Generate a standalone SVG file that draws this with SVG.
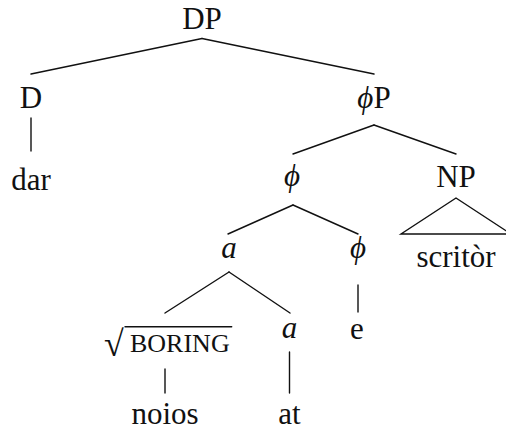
<svg xmlns="http://www.w3.org/2000/svg" width="506" height="432" viewBox="0 0 506 432">
  <style>
    .tx { font-family: 'Liberation Serif', serif !important; font-size: 31px; fill: #111; text-anchor: middle; }
    .it { font-style: italic; }
    .sc { font-size: 26px; text-anchor: start; }
    .edge { stroke: #111; stroke-width: 1.4; fill: none; stroke-linecap: round; }
  </style>
  <rect width="506" height="432" fill="#fff"/>

  <g id="edges">
    <line class="edge" x1="202" y1="38.5" x2="31" y2="74"/>
    <line class="edge" x1="202" y1="38.5" x2="374" y2="74"/>
    <line class="edge" x1="31" y1="118" x2="31" y2="151"/>
    <line class="edge" x1="374" y1="125" x2="293" y2="154"/>
    <line class="edge" x1="374" y1="125" x2="456" y2="154"/>
    <line class="edge" x1="293" y1="205" x2="228" y2="234"/>
    <line class="edge" x1="293" y1="205" x2="358" y2="234"/>
    <polygon class="edge" points="456,198 401,234 511,234" stroke-linejoin="miter"/>
    <line class="edge" x1="229" y1="272" x2="165" y2="313"/>
    <line class="edge" x1="229" y1="272" x2="290" y2="313"/>
    <line class="edge" x1="358" y1="285" x2="358" y2="312"/>
    <line class="edge" x1="165" y1="369" x2="165" y2="393"/>
    <line class="edge" x1="289.5" y1="352" x2="289.5" y2="393"/>
  </g>

  <g id="dp"><text class="tx" x="202" y="29">DP</text></g>
  <g id="d"><text class="tx" x="31" y="108">D</text></g>
  <g id="dar"><text class="tx" x="31" y="190">dar</text></g>
  <g id="phip"><text class="tx" x="374" y="108"><tspan class="it">ϕ</tspan>P</text></g>
  <g id="phi"><text class="tx it" x="292" y="186">ϕ</text></g>
  <g id="np"><text class="tx" x="456" y="187">NP</text></g>
  <g id="scritor"><text class="tx" x="456" y="267">scritòr</text></g>
  <g id="a1"><text class="tx it" x="229" y="258">a</text></g>
  <g id="phi2"><text class="tx it" x="358" y="258">ϕ</text></g>
  <g id="root">
    <text class="tx" x="114" y="356" style="font-size:36px">√</text>
    <line class="edge" x1="125" y1="326.7" x2="231.7" y2="326.7" stroke-linecap="butt"/>
    <text class="tx sc" x="130" y="351.7">BORING</text>
  </g>
  <g id="a2"><text class="tx it" x="289.5" y="338">a</text></g>
  <g id="e"><text class="tx" x="357" y="339">e</text></g>
  <g id="noios"><text class="tx" x="165" y="424">noios</text></g>
  <g id="at"><text class="tx" x="289.5" y="424">at</text></g>
</svg>
